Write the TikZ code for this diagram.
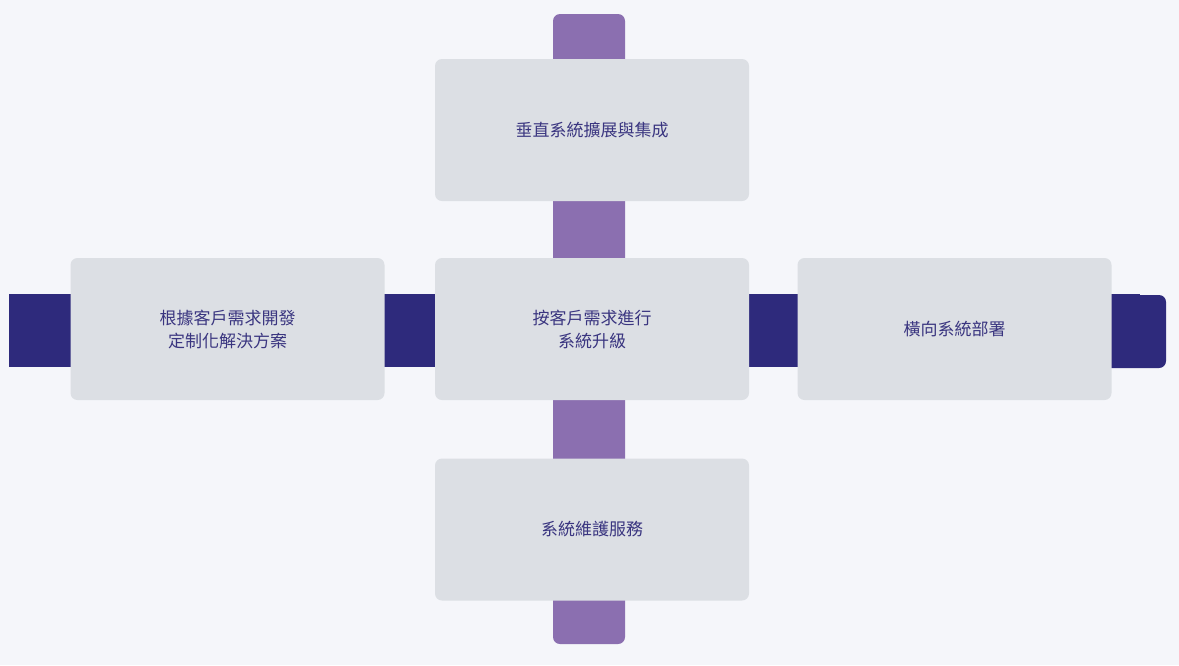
\documentclass[tikz,border=0pt]{standalone}
\usepackage{fontspec}
\newfontfamily\cjk{Noto Sans CJK TC}
\definecolor{bg}{HTML}{F5F6FA}
\definecolor{boxc}{HTML}{DCDFE4}
\definecolor{vbar}{HTML}{8B6FB0}
\definecolor{hbar}{HTML}{2E2A7C}
\definecolor{txt}{HTML}{3A3580}
\begin{document}
\begin{tikzpicture}[x=1pt,y=-1pt,
  card/.style={fill=boxc,rounded corners=7pt,minimum width=314pt,minimum height=142pt,inner sep=0pt,
    text=txt,font=\cjk\fontsize{17}{23}\selectfont,align=center}]
\fill[bg] (0,0) rectangle (1179,665);
\useasboundingbox (0,0) rectangle (1179,665);
\fill[vbar,rounded corners=7pt] (553,14) rectangle (625,644);
\fill[hbar] (9,294) rectangle (1140,367);
\fill[hbar,rounded corners=7pt] (1100,295) rectangle (1166,368);
\node[card] (top) at (592,130) {垂直系統擴展與集成};
\node[card] (mid) at (592,329) {按客戶需求進行\\系統升級};
\node[card] (bot) at (592,529.5) {系統維護服務};
\node[card] (left) at (227.5,329) {根據客戶需求開發\\定制化解決方案};
\node[card] (right) at (954.5,329) {橫向系統部署};
\end{tikzpicture}
\end{document}
